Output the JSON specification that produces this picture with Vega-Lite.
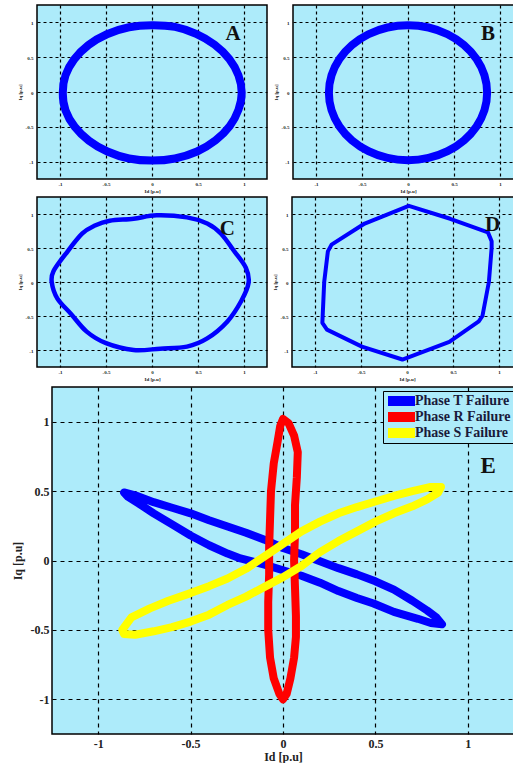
{
  "$schema": "https://vega.github.io/schema/vega-lite/v6.json",
  "padding": {"left": 10, "top": 4, "right": 0, "bottom": 0},
  "background": "white",
  "bounds": "full",
  "spacing": 2,
  "config": {
    "view": {"fill": "#ADEBFA", "stroke": "black", "strokeWidth": 1.5},
    "axis": {"grid": true, "gridColor": "black", "gridDash": [3, 3], "gridWidth": 1.2, "gridOpacity": 1, "ticks": false, "domain": false,
      "labelFont": "Liberation Serif", "labelFontWeight": "bold", "titleFont": "Liberation Serif", "titleFontWeight": "bold",
      "labelColor": "#222", "titleColor": "#222", "labelExpr": "'' + datum.value"}
  },
  "datasets": {
    "A": [
      {"i": 0, "x": 0.975, "y": -0.01}, {"i": 1, "x": 0.94, "y": 0.24}, {"i": 2, "x": 0.84, "y": 0.475}, {"i": 3, "x": 0.68, "y": 0.68},
      {"i": 4, "x": 0.48, "y": 0.835}, {"i": 5, "x": 0.25, "y": 0.935}, {"i": 6, "x": 0.0, "y": 0.96}, {"i": 7, "x": -0.25, "y": 0.93},
      {"i": 8, "x": -0.49, "y": 0.83}, {"i": 9, "x": -0.69, "y": 0.675}, {"i": 10, "x": -0.845, "y": 0.47}, {"i": 11, "x": -0.94, "y": 0.24},
      {"i": 12, "x": -0.97, "y": -0.01}, {"i": 13, "x": -0.94, "y": -0.265}, {"i": 14, "x": -0.84, "y": -0.5}, {"i": 15, "x": -0.685, "y": -0.7},
      {"i": 16, "x": -0.485, "y": -0.855}, {"i": 17, "x": -0.25, "y": -0.955}, {"i": 18, "x": 0.0, "y": -0.985}, {"i": 19, "x": 0.25, "y": -0.955},
      {"i": 20, "x": 0.49, "y": -0.855}, {"i": 21, "x": 0.69, "y": -0.695}, {"i": 22, "x": 0.845, "y": -0.49}, {"i": 23, "x": 0.94, "y": -0.255}
    ],
    "B": [
      {"i": 0, "x": 0.86, "y": -0.01}, {"i": 1, "x": 0.831, "y": 0.241}, {"i": 2, "x": 0.745, "y": 0.475}, {"i": 3, "x": 0.608, "y": 0.676},
      {"i": 4, "x": 0.43, "y": 0.83}, {"i": 5, "x": 0.223, "y": 0.927}, {"i": 6, "x": 0.0, "y": 0.96}, {"i": 7, "x": -0.223, "y": 0.927},
      {"i": 8, "x": -0.43, "y": 0.83}, {"i": 9, "x": -0.608, "y": 0.676}, {"i": 10, "x": -0.745, "y": 0.475}, {"i": 11, "x": -0.831, "y": 0.241},
      {"i": 12, "x": -0.86, "y": -0.01}, {"i": 13, "x": -0.831, "y": -0.261}, {"i": 14, "x": -0.745, "y": -0.495}, {"i": 15, "x": -0.608, "y": -0.696},
      {"i": 16, "x": -0.43, "y": -0.85}, {"i": 17, "x": -0.223, "y": -0.947}, {"i": 18, "x": 0.0, "y": -0.98}, {"i": 19, "x": 0.223, "y": -0.947},
      {"i": 20, "x": 0.43, "y": -0.85}, {"i": 21, "x": 0.608, "y": -0.696}, {"i": 22, "x": 0.745, "y": -0.495}, {"i": 23, "x": 0.831, "y": -0.261}
    ],
    "C": [
      {"i": 0, "x": 1.05, "y": -0.01}, {"i": 1, "x": 1.02, "y": 0.21}, {"i": 2, "x": 0.89, "y": 0.46}, {"i": 3, "x": 0.75, "y": 0.71},
      {"i": 4, "x": 0.6, "y": 0.86}, {"i": 5, "x": 0.38, "y": 0.95}, {"i": 6, "x": 0.05, "y": 0.98}, {"i": 7, "x": -0.2, "y": 0.93},
      {"i": 8, "x": -0.46, "y": 0.9}, {"i": 9, "x": -0.62, "y": 0.83}, {"i": 10, "x": -0.76, "y": 0.71}, {"i": 11, "x": -0.94, "y": 0.41},
      {"i": 12, "x": -1.07, "y": 0.16}, {"i": 13, "x": -1.09, "y": 0.0}, {"i": 14, "x": -1.03, "y": -0.24}, {"i": 15, "x": -0.88, "y": -0.47},
      {"i": 16, "x": -0.71, "y": -0.73}, {"i": 17, "x": -0.5, "y": -0.9}, {"i": 18, "x": -0.2, "y": -1.0}, {"i": 19, "x": 0.09, "y": -0.98},
      {"i": 20, "x": 0.38, "y": -0.95}, {"i": 21, "x": 0.6, "y": -0.83}, {"i": 22, "x": 0.82, "y": -0.58}, {"i": 23, "x": 0.97, "y": -0.28}
    ],
    "D": [
      {"i": 0, "x": 0.02, "y": 1.12}, {"i": 1, "x": 0.47, "y": 0.93}, {"i": 2, "x": 0.88, "y": 0.73}, {"i": 3, "x": 0.92, "y": 0.6},
      {"i": 4, "x": 0.92, "y": 0.5}, {"i": 5, "x": 0.89, "y": 0.0}, {"i": 6, "x": 0.82, "y": -0.5}, {"i": 7, "x": 0.78, "y": -0.58},
      {"i": 8, "x": 0.46, "y": -0.88}, {"i": 9, "x": -0.05, "y": -1.14}, {"i": 10, "x": -0.49, "y": -0.95}, {"i": 11, "x": -0.87, "y": -0.7},
      {"i": 12, "x": -0.92, "y": -0.6}, {"i": 13, "x": -0.9, "y": 0.0}, {"i": 14, "x": -0.86, "y": 0.45}, {"i": 15, "x": -0.82, "y": 0.55},
      {"i": 16, "x": -0.46, "y": 0.86}
    ],
    "E": [
      {"s": "Phase T Failure", "i": 0, "x": -0.86, "y": 0.49}, {"s": "Phase T Failure", "i": 1, "x": -0.8, "y": 0.47},
      {"s": "Phase T Failure", "i": 2, "x": -0.7, "y": 0.42}, {"s": "Phase T Failure", "i": 3, "x": -0.6, "y": 0.38},
      {"s": "Phase T Failure", "i": 4, "x": -0.5, "y": 0.34}, {"s": "Phase T Failure", "i": 5, "x": -0.4, "y": 0.29},
      {"s": "Phase T Failure", "i": 6, "x": -0.3, "y": 0.245}, {"s": "Phase T Failure", "i": 7, "x": -0.2, "y": 0.2},
      {"s": "Phase T Failure", "i": 8, "x": -0.1, "y": 0.15}, {"s": "Phase T Failure", "i": 9, "x": 0.0, "y": 0.09},
      {"s": "Phase T Failure", "i": 10, "x": 0.1, "y": 0.045}, {"s": "Phase T Failure", "i": 11, "x": 0.2, "y": -0.005},
      {"s": "Phase T Failure", "i": 12, "x": 0.3, "y": -0.055}, {"s": "Phase T Failure", "i": 13, "x": 0.4, "y": -0.1},
      {"s": "Phase T Failure", "i": 14, "x": 0.5, "y": -0.15}, {"s": "Phase T Failure", "i": 15, "x": 0.6, "y": -0.21},
      {"s": "Phase T Failure", "i": 16, "x": 0.7, "y": -0.29}, {"s": "Phase T Failure", "i": 17, "x": 0.78, "y": -0.36},
      {"s": "Phase T Failure", "i": 18, "x": 0.83, "y": -0.41}, {"s": "Phase T Failure", "i": 19, "x": 0.86, "y": -0.46},
      {"s": "Phase T Failure", "i": 20, "x": 0.8, "y": -0.45}, {"s": "Phase T Failure", "i": 21, "x": 0.73, "y": -0.42},
      {"s": "Phase T Failure", "i": 22, "x": 0.6, "y": -0.37}, {"s": "Phase T Failure", "i": 23, "x": 0.49, "y": -0.31},
      {"s": "Phase T Failure", "i": 24, "x": 0.4, "y": -0.27}, {"s": "Phase T Failure", "i": 25, "x": 0.3, "y": -0.22},
      {"s": "Phase T Failure", "i": 26, "x": 0.2, "y": -0.16}, {"s": "Phase T Failure", "i": 27, "x": 0.1, "y": -0.11},
      {"s": "Phase T Failure", "i": 28, "x": 0.0, "y": -0.07}, {"s": "Phase T Failure", "i": 29, "x": -0.1, "y": -0.03},
      {"s": "Phase T Failure", "i": 30, "x": -0.23, "y": 0.015}, {"s": "Phase T Failure", "i": 31, "x": -0.3, "y": 0.05},
      {"s": "Phase T Failure", "i": 32, "x": -0.4, "y": 0.11}, {"s": "Phase T Failure", "i": 33, "x": -0.5, "y": 0.18},
      {"s": "Phase T Failure", "i": 34, "x": -0.6, "y": 0.26}, {"s": "Phase T Failure", "i": 35, "x": -0.7, "y": 0.34},
      {"s": "Phase T Failure", "i": 36, "x": -0.78, "y": 0.41}, {"s": "Phase T Failure", "i": 37, "x": -0.84, "y": 0.46},
      {"s": "Phase R Failure", "i": 0, "x": 0.0, "y": 1.02}, {"s": "Phase R Failure", "i": 1, "x": 0.03, "y": 0.99},
      {"s": "Phase R Failure", "i": 2, "x": 0.06, "y": 0.9}, {"s": "Phase R Failure", "i": 3, "x": 0.08, "y": 0.78},
      {"s": "Phase R Failure", "i": 4, "x": 0.075, "y": 0.6}, {"s": "Phase R Failure", "i": 5, "x": 0.065, "y": 0.4},
      {"s": "Phase R Failure", "i": 6, "x": 0.065, "y": 0.2}, {"s": "Phase R Failure", "i": 7, "x": 0.06, "y": 0.0},
      {"s": "Phase R Failure", "i": 8, "x": 0.065, "y": -0.2}, {"s": "Phase R Failure", "i": 9, "x": 0.07, "y": -0.4},
      {"s": "Phase R Failure", "i": 10, "x": 0.07, "y": -0.55}, {"s": "Phase R Failure", "i": 11, "x": 0.06, "y": -0.7},
      {"s": "Phase R Failure", "i": 12, "x": 0.04, "y": -0.85}, {"s": "Phase R Failure", "i": 13, "x": 0.02, "y": -0.96},
      {"s": "Phase R Failure", "i": 14, "x": 0.0, "y": -1.0}, {"s": "Phase R Failure", "i": 15, "x": -0.02, "y": -0.96},
      {"s": "Phase R Failure", "i": 16, "x": -0.05, "y": -0.85}, {"s": "Phase R Failure", "i": 17, "x": -0.07, "y": -0.7},
      {"s": "Phase R Failure", "i": 18, "x": -0.08, "y": -0.5}, {"s": "Phase R Failure", "i": 19, "x": -0.08, "y": -0.3},
      {"s": "Phase R Failure", "i": 20, "x": -0.075, "y": -0.1}, {"s": "Phase R Failure", "i": 21, "x": -0.075, "y": 0.1},
      {"s": "Phase R Failure", "i": 22, "x": -0.07, "y": 0.3}, {"s": "Phase R Failure", "i": 23, "x": -0.065, "y": 0.5},
      {"s": "Phase R Failure", "i": 24, "x": -0.05, "y": 0.7}, {"s": "Phase R Failure", "i": 25, "x": -0.03, "y": 0.85},
      {"s": "Phase R Failure", "i": 26, "x": -0.015, "y": 0.97},
      {"s": "Phase S Failure", "i": 0, "x": -0.87, "y": -0.5}, {"s": "Phase S Failure", "i": 1, "x": -0.82, "y": -0.41},
      {"s": "Phase S Failure", "i": 2, "x": -0.72, "y": -0.345}, {"s": "Phase S Failure", "i": 3, "x": -0.62, "y": -0.29},
      {"s": "Phase S Failure", "i": 4, "x": -0.5, "y": -0.235}, {"s": "Phase S Failure", "i": 5, "x": -0.4, "y": -0.185},
      {"s": "Phase S Failure", "i": 6, "x": -0.3, "y": -0.13}, {"s": "Phase S Failure", "i": 7, "x": -0.2, "y": -0.06},
      {"s": "Phase S Failure", "i": 8, "x": -0.1, "y": 0.03}, {"s": "Phase S Failure", "i": 9, "x": 0.0, "y": 0.12},
      {"s": "Phase S Failure", "i": 10, "x": 0.1, "y": 0.21}, {"s": "Phase S Failure", "i": 11, "x": 0.2, "y": 0.28},
      {"s": "Phase S Failure", "i": 12, "x": 0.3, "y": 0.34}, {"s": "Phase S Failure", "i": 13, "x": 0.4, "y": 0.385},
      {"s": "Phase S Failure", "i": 14, "x": 0.5, "y": 0.425}, {"s": "Phase S Failure", "i": 15, "x": 0.6, "y": 0.465},
      {"s": "Phase S Failure", "i": 16, "x": 0.7, "y": 0.5}, {"s": "Phase S Failure", "i": 17, "x": 0.8, "y": 0.53},
      {"s": "Phase S Failure", "i": 18, "x": 0.855, "y": 0.53}, {"s": "Phase S Failure", "i": 19, "x": 0.84, "y": 0.49},
      {"s": "Phase S Failure", "i": 20, "x": 0.78, "y": 0.44}, {"s": "Phase S Failure", "i": 21, "x": 0.7, "y": 0.39},
      {"s": "Phase S Failure", "i": 22, "x": 0.6, "y": 0.34}, {"s": "Phase S Failure", "i": 23, "x": 0.5, "y": 0.28},
      {"s": "Phase S Failure", "i": 24, "x": 0.4, "y": 0.21}, {"s": "Phase S Failure", "i": 25, "x": 0.3, "y": 0.14},
      {"s": "Phase S Failure", "i": 26, "x": 0.2, "y": 0.06}, {"s": "Phase S Failure", "i": 27, "x": 0.1, "y": -0.04},
      {"s": "Phase S Failure", "i": 28, "x": 0.0, "y": -0.12}, {"s": "Phase S Failure", "i": 29, "x": -0.1, "y": -0.19},
      {"s": "Phase S Failure", "i": 30, "x": -0.2, "y": -0.26}, {"s": "Phase S Failure", "i": 31, "x": -0.3, "y": -0.32},
      {"s": "Phase S Failure", "i": 32, "x": -0.4, "y": -0.39}, {"s": "Phase S Failure", "i": 33, "x": -0.5, "y": -0.44},
      {"s": "Phase S Failure", "i": 34, "x": -0.6, "y": -0.48}, {"s": "Phase S Failure", "i": 35, "x": -0.7, "y": -0.51},
      {"s": "Phase S Failure", "i": 36, "x": -0.8, "y": -0.535}, {"s": "Phase S Failure", "i": 37, "x": -0.86, "y": -0.53}
    ]
  },
  "vconcat": [
    {
      "bounds": "flush",
      "spacing": 26,
      "hconcat": [
        {
          "width": 230, "height": 174,
          "layer": [
            {"data": {"name": "A"},
             "mark": {"type": "line", "interpolate": "cardinal-closed", "color": "#0000FF", "strokeWidth": 8, "strokeJoin": "round"},
             "encoding": {
               "x": {"field": "x", "type": "quantitative", "scale": {"domain": [-1.25, 1.25], "nice": false, "zero": false},
                     "axis": {"values": [-1, -0.5, 0, 0.5, 1], "title": "Id [p.u]", "labelFontSize": 5, "titleFontSize": 5, "labelPadding": 2, "titlePadding": 2}},
               "y": {"field": "y", "type": "quantitative", "scale": {"domain": [-1.25, 1.25], "nice": false, "zero": false},
                     "axis": {"values": [-1, -0.5, 0, 0.5, 1], "title": "Iq [p.u]", "labelFontSize": 5, "titleFontSize": 5, "labelPadding": 4, "titlePadding": 3}},
               "order": {"field": "i", "type": "quantitative"}}},
            {"data": {"values": [{}]},
             "mark": {"type": "text", "text": "A", "font": "Liberation Serif", "fontSize": 21, "fontWeight": "bold", "color": "#111"},
             "encoding": {"x": {"datum": 0.88}, "y": {"datum": 0.83}}}
          ]
        },
        {
          "width": 230, "height": 174,
          "layer": [
            {"data": {"name": "B"},
             "mark": {"type": "line", "interpolate": "cardinal-closed", "color": "#0000FF", "strokeWidth": 8, "strokeJoin": "round"},
             "encoding": {
               "x": {"field": "x", "type": "quantitative", "scale": {"domain": [-1.25, 1.25], "nice": false, "zero": false},
                     "axis": {"values": [-1, -0.5, 0, 0.5, 1], "title": "Id [p.u]", "labelFontSize": 5, "titleFontSize": 5, "labelPadding": 2, "titlePadding": 2}},
               "y": {"field": "y", "type": "quantitative", "scale": {"domain": [-1.25, 1.25], "nice": false, "zero": false},
                     "axis": {"values": [-1, -0.5, 0, 0.5, 1], "title": "Iq [p.u]", "labelFontSize": 5, "titleFontSize": 5, "labelPadding": 4, "titlePadding": 3}},
               "order": {"field": "i", "type": "quantitative"}}},
            {"data": {"values": [{}]},
             "mark": {"type": "text", "text": "B", "font": "Liberation Serif", "fontSize": 21, "fontWeight": "bold", "color": "#111"},
             "encoding": {"x": {"datum": 0.87}, "y": {"datum": 0.83}}}
          ]
        }
      ]
    },
    {
      "bounds": "flush",
      "spacing": 25,
      "hconcat": [
        {
          "width": 230, "height": 170,
          "layer": [
            {"data": {"name": "C"},
             "mark": {"type": "line", "interpolate": "cardinal-closed", "color": "#0000FF", "strokeWidth": 4.5, "strokeJoin": "round"},
             "encoding": {
               "x": {"field": "x", "type": "quantitative", "scale": {"domain": [-1.25, 1.25], "nice": false, "zero": false},
                     "axis": {"values": [-1, -0.5, 0, 0.5, 1], "title": "Id [p.u]", "labelFontSize": 5, "titleFontSize": 5, "labelPadding": 2, "titlePadding": 2}},
               "y": {"field": "y", "type": "quantitative", "scale": {"domain": [-1.25, 1.25], "nice": false, "zero": false},
                     "axis": {"values": [-1, -0.5, 0, 0.5, 1], "title": "Iq [p.u]", "labelFontSize": 5, "titleFontSize": 5, "labelPadding": 4, "titlePadding": 3}},
               "order": {"field": "i", "type": "quantitative"}}},
            {"data": {"values": [{}]},
             "mark": {"type": "text", "text": "C", "font": "Liberation Serif", "fontSize": 21, "fontWeight": "bold", "color": "#111"},
             "encoding": {"x": {"datum": 0.82}, "y": {"datum": 0.78}}}
          ]
        },
        {
          "width": 230, "height": 170,
          "layer": [
            {"data": {"name": "D"},
             "mark": {"type": "line", "interpolate": "linear-closed", "color": "#0000FF", "strokeWidth": 4, "strokeJoin": "round"},
             "encoding": {
               "x": {"field": "x", "type": "quantitative", "scale": {"domain": [-1.25, 1.25], "nice": false, "zero": false},
                     "axis": {"values": [-1, -0.5, 0, 0.5, 1], "title": "Id [p.u]", "labelFontSize": 5, "titleFontSize": 5, "labelPadding": 2, "titlePadding": 2}},
               "y": {"field": "y", "type": "quantitative", "scale": {"domain": [-1.25, 1.25], "nice": false, "zero": false},
                     "axis": {"values": [-1, -0.5, 0, 0.5, 1], "title": "Iq [p.u]", "labelFontSize": 5, "titleFontSize": 5, "labelPadding": 4, "titlePadding": 3}},
               "order": {"field": "i", "type": "quantitative"}}},
            {"data": {"values": [{}]},
             "mark": {"type": "text", "text": "D", "font": "Liberation Serif", "fontSize": 21, "fontWeight": "bold", "color": "#111"},
             "encoding": {"x": {"datum": 0.93}, "y": {"datum": 0.84}}}
          ]
        }
      ]
    },
    {
      "bounds": "flush",
      "spacing": 14,
      "hconcat": [
        {"width": 1, "height": 1, "data": {"values": [{}]}, "mark": {"type": "point", "opacity": 0}, "view": {"stroke": null, "fill": null}},
        {
          "width": 462, "height": 347,
          "layer": [
            {"data": {"name": "E"},
             "mark": {"type": "line", "interpolate": "linear-closed", "strokeWidth": 8, "strokeJoin": "round"},
             "encoding": {
               "x": {"field": "x", "type": "quantitative", "scale": {"domain": [-1.25, 1.25], "nice": false, "zero": false},
                     "axis": {"values": [-1, -0.5, 0, 0.5, 1], "title": "Id [p.u]", "labelFontSize": 12, "titleFontSize": 12, "labelPadding": 4, "titlePadding": 2, "gridDash": [4, 4]}},
               "y": {"field": "y", "type": "quantitative", "scale": {"domain": [-1.25, 1.25], "nice": false, "zero": false},
                     "axis": {"values": [-1, -0.5, 0, 0.5, 1], "title": "Iq [p.u]", "labelFontSize": 12, "titleFontSize": 12, "labelPadding": 3, "titlePadding": 6, "gridDash": [4, 4]}},
               "color": {"field": "s", "type": "nominal",
                 "scale": {"domain": ["Phase T Failure", "Phase R Failure", "Phase S Failure"], "range": ["#0000FF", "#FF0000", "#FFFF00"]},
                 "legend": {"title": null, "orient": "none", "legendX": 346, "legendY": 386, "symbolType": "stroke", "symbolSize": 729,
                   "symbolStrokeWidth": 10, "symbolOffset": -3, "labelOffset": -5, "clipHeight": 14, "labelFont": "Liberation Serif", "labelFontWeight": "bold", "labelFontSize": 14,
                   "labelColor": "#1a1a3a", "strokeColor": "black", "fillColor": "#ADEBFA", "padding": 3, "rowPadding": 2}},
               "order": {"field": "i", "type": "quantitative"}}},
            {"data": {"values": [{}]},
             "mark": {"type": "text", "text": "E", "font": "Liberation Serif", "fontSize": 23, "fontWeight": "bold", "color": "#111"},
             "encoding": {"x": {"datum": 1.11}, "y": {"datum": 0.68}}}
          ]
        }
      ]
    }
  ]
}
